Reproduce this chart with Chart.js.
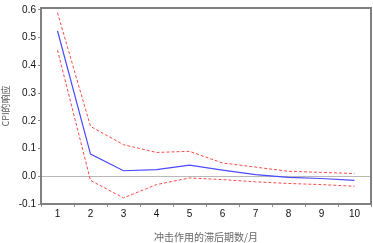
<!DOCTYPE html>
<html><head><meta charset="utf-8">
<script src="https://cdn.jsdelivr.net/npm/chart.js@4"></script>
<style>html,body{margin:0;padding:0;background:#fff}#wrap{width:373px;height:243px}</style>
</head><body><div id="wrap"><canvas id="c"></canvas></div>
<script>
const lags = ['1','2','3','4','5','6','7','8','9','10'];
const response = [0.525, 0.080, 0.020, 0.024, 0.040, 0.022, 0.006, -0.004, -0.008, -0.015];
const upperBand = [0.590, 0.180, 0.114, 0.086, 0.090, 0.048, 0.033, 0.018, 0.014, 0.010];
const lowerBand = [0.455, -0.015, -0.078, -0.030, -0.006, -0.012, -0.020, -0.026, -0.030, -0.036];
const yTicks = [-0.1, 0.0, 0.1, 0.2, 0.3, 0.4, 0.5, 0.6];

const frame = {
  id: 'frame',
  afterDraw(chart) {
    const a = chart.chartArea, ctx = chart.ctx;
    ctx.save();
    ctx.strokeStyle = '#808080';
    ctx.lineWidth = 2;
    ctx.beginPath();
    ctx.moveTo(a.left, a.top); ctx.lineTo(a.right, a.top);
    ctx.lineTo(a.right, a.bottom);
    ctx.stroke();
    ctx.restore();
  }
};

new Chart(document.getElementById('c'), {
  type: 'line',
  data: {
    labels: lags,
    datasets: [
      { data: upperBand, borderColor: '#ff4a4a', borderWidth: 1, borderDash: [3, 2], pointRadius: 0, tension: 0, fill: false },
      { data: response, borderColor: '#4a4aff', borderWidth: 1.2, pointRadius: 0, tension: 0, fill: false },
      { data: lowerBand, borderColor: '#ff4a4a', borderWidth: 1, borderDash: [3, 2], pointRadius: 0, tension: 0, fill: false }
    ]
  },
  options: {
    responsive: true, maintainAspectRatio: false, animation: false,
    layout: { padding: { top: 6, right: 2, bottom: 0, left: 0 } },
    plugins: { legend: { display: false }, tooltip: { enabled: false } },
    scales: {
      x: {
        type: 'category', offset: true,
        grid: { offset: true, drawOnChartArea: false, drawTicks: true, tickLength: 3, color: '#909090' },
        border: { display: true, color: '#808080', width: 2 },
        ticks: { color: '#111', font: { family: 'Liberation Sans', size: 10 }, padding: 1, maxRotation: 0 },
        title: { display: true, text: '冲击作用的滞后期数/月', color: '#666', font: { family: 'Noto Sans CJK SC', size: 10 }, padding: { top: 4, bottom: 0 } },
        afterFit(s) { s.height = 39; }
      },
      y: {
        min: -0.1, max: 0.607,
        afterBuildTicks(s) { s.ticks = yTicks.map(v => ({ value: v })); },
        grid: {
          drawOnChartArea: true, drawTicks: true, tickLength: 3,
          color: ctx => (ctx.tick && Math.abs(ctx.tick.value) < 1e-9) ? '#b8b8b8' : 'rgba(0,0,0,0)',
          tickColor: '#909090'
        },
        border: { display: true, color: '#808080', width: 2 },
        ticks: { color: '#111', font: { family: 'Liberation Sans', size: 10 }, padding: 2,
          callback: v => Number(v).toFixed(1) },
        title: { display: true, text: 'CPI的响应', color: '#555', font: { family: 'Noto Sans CJK SC', size: 9 }, padding: { top: 0, bottom: 2 } },
        afterFit(s) { s.width = 41; }
      }
    }
  },
  plugins: [frame]
});
</script></body></html>
